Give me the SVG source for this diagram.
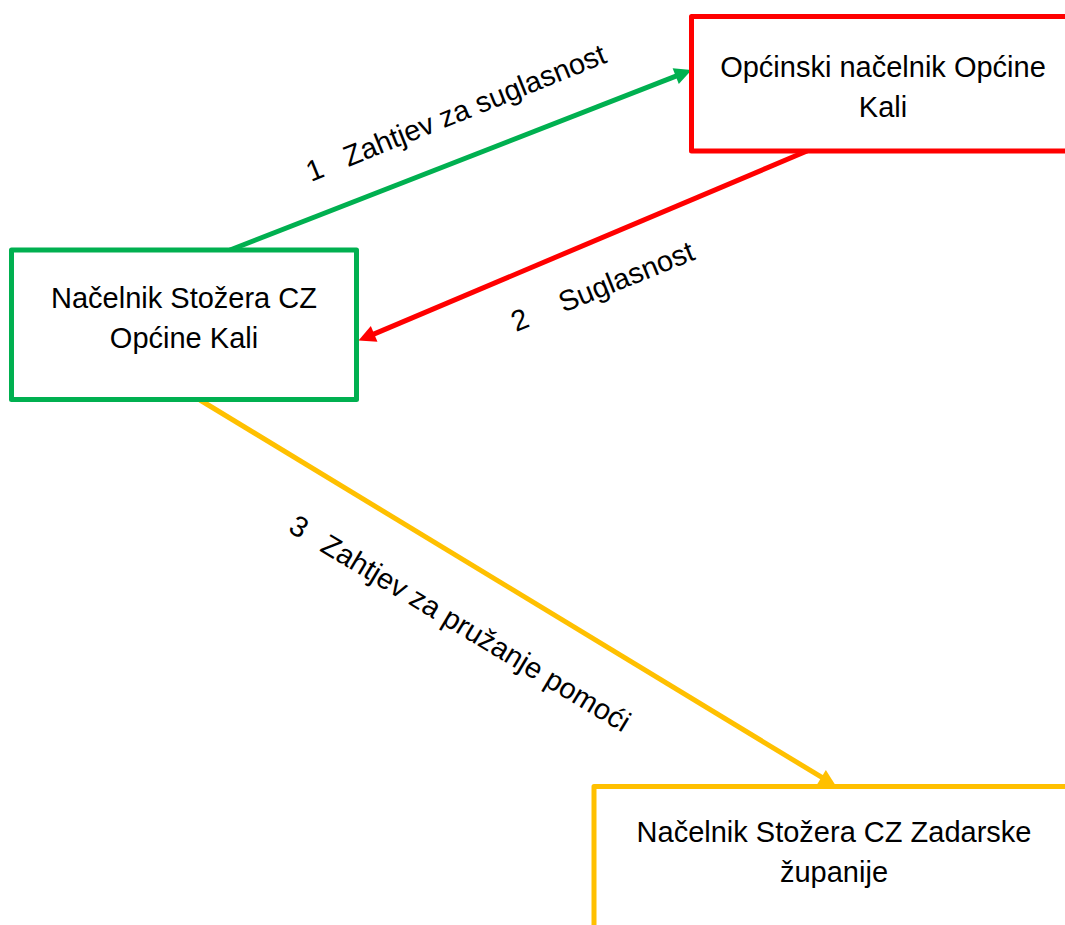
<svg xmlns="http://www.w3.org/2000/svg" width="1065" height="925" viewBox="0 0 1065 925">
  <style>
    .box { fill: #ffffff; stroke-width: 5; stroke-linejoin: round; }
    .label { font-family: "Liberation Sans", Arial, sans-serif; font-size: 29px; fill: #000000; }
    .node-text { text-anchor: middle; }
    .link { fill: none; stroke-width: 5; }
  </style>
  <defs>
    <marker id="head-green" markerUnits="userSpaceOnUse" markerWidth="17" markerHeight="17" refX="3" refY="8.5" orient="auto" overflow="visible">
      <path d="M0,0 L17,8.5 L0,17 Z" fill="#00B050"/>
    </marker>
    <marker id="head-red" markerUnits="userSpaceOnUse" markerWidth="17" markerHeight="17" refX="3" refY="8.5" orient="auto" overflow="visible">
      <path d="M0,0 L17,8.5 L0,17 Z" fill="#FF0000"/>
    </marker>
    <marker id="head-yellow" markerUnits="userSpaceOnUse" markerWidth="17" markerHeight="17" refX="3" refY="8.5" orient="auto" overflow="visible">
      <path d="M0,0 L17,8.5 L0,17 Z" fill="#FFC000"/>
    </marker>
  </defs>

  <!-- connectors -->
  <g id="connectors">
    <line class="link" x1="230" y1="250" x2="678.5" y2="75.1" stroke="#00B050" marker-end="url(#head-green)"/>
    <line class="link" x1="807" y1="151" x2="371.4" y2="335.1" stroke="#FF0000" marker-end="url(#head-red)"/>
    <line class="link" x1="200" y1="400" x2="824" y2="778.7" stroke="#FFC000" marker-end="url(#head-yellow)"/>
    <text class="label" transform="translate(311,182) rotate(-22)">1<tspan dx="24">Zahtjev za suglasnost</tspan></text>
    <text class="label" transform="translate(516,332) rotate(-22)">2<tspan dx="35">Suglasnost</tspan></text>
    <text class="label" transform="translate(287,531) rotate(31)">3<tspan dx="21">Zahtjev za pružanje pomoći</tspan></text>
  </g>

  <!-- nodes -->
  <g id="node-stozer-kali">
    <rect class="box" x="11.5" y="250" width="345" height="149.5" stroke="#00B050"/>
    <text class="label node-text" x="184" y="308">Načelnik Stožera CZ</text>
    <text class="label node-text" x="184" y="348">Općine Kali</text>
  </g>

  <g id="node-nacelnik-kali">
    <rect class="box" x="691.5" y="16.5" width="384" height="134.5" stroke="#FF0000"/>
    <text class="label node-text" x="883" y="77">Općinski načelnik Općine</text>
    <text class="label node-text" x="883" y="117">Kali</text>
  </g>

  <g id="node-stozer-zadar">
    <rect class="box" x="594" y="786.5" width="480" height="160" stroke="#FFC000"/>
    <text class="label node-text" x="834" y="842">Načelnik Stožera CZ Zadarske</text>
    <text class="label node-text" x="834" y="882">županije</text>
  </g>
</svg>
